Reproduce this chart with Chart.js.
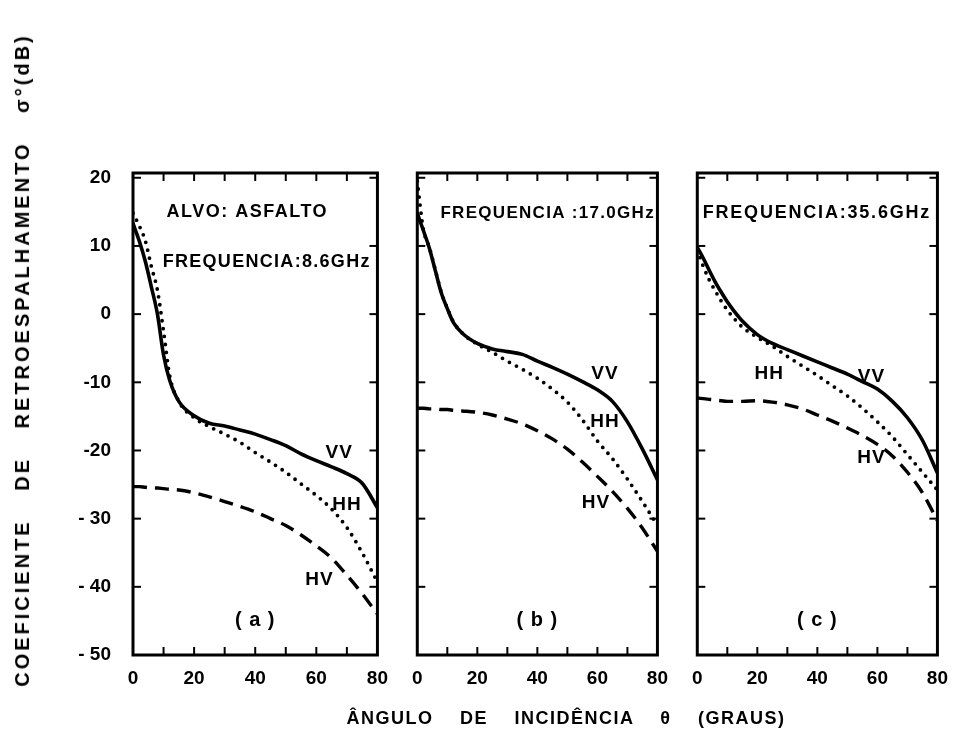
<!DOCTYPE html>
<html><head><meta charset="utf-8">
<script src="https://cdn.jsdelivr.net/npm/chart.js@4.4.1/dist/chart.umd.min.js"></script>
<style>
body{margin:0;background:#fff;}
#fig{position:relative;width:960px;height:739px;overflow:hidden;background:#fff;}
canvas{position:absolute;top:0;}
.t{position:absolute;font-family:"Liberation Sans",Arial,sans-serif;font-weight:bold;color:#000;white-space:nowrap;line-height:1;}
#ytitle{left:22px;top:360px;font-size:20px;letter-spacing:3px;word-spacing:20px;transform:translate(-50%,-50%) rotate(-90deg);}
#xtitle{left:566px;top:718px;font-size:18px;letter-spacing:1.5px;word-spacing:20px;transform:translate(-50%,-50%);}
</style></head><body>
<div id="fig">
<canvas id="ca" width="400" height="739" style="left:0px"></canvas>
<canvas id="cb" width="280" height="739" style="left:400px"></canvas>
<canvas id="cc" width="280" height="739" style="left:680px"></canvas>
<div class="t" id="ytitle">COEFICIENTE DE RETROESPALHAMENTO σ°(dB)</div>
<div class="t" id="xtitle">ÂNGULO DE INCIDÊNCIA θ (GRAUS)</div>
</div>
<script>
// ---- data (incidence angle in degrees, backscatter in dB) ----
const angles = [0,2,4,6,8,10,12,15,20,25,30,35,40,45,50,55,60,65,70,75,80];

// (a) 8.6 GHz
const vvA = [13.3,10.8,7.8,4.0,0.0,-6.0,-9.7,-12.8,-14.9,-16.0,-16.4,-17.0,-17.6,-18.4,-19.3,-20.5,-21.5,-22.4,-23.4,-24.8,-28.4];
const hhA = [14.8,13.0,10.8,7.0,3.5,-2.5,-9.0,-12.8,-15.2,-16.5,-17.6,-18.8,-20.3,-21.7,-23.2,-24.9,-26.6,-28.6,-31.3,-35.0,-39.3];
const hvA = [-25.3,-25.3,-25.4,-25.5,-25.5,-25.6,-25.7,-25.8,-26.2,-26.8,-27.5,-28.2,-29.0,-30.0,-31.0,-32.4,-34.0,-35.8,-38.3,-41.0,-44.0];

// (b) 17.0 GHz
const vvB = [14.8,12.3,9.7,6.4,3.1,0.8,-1.2,-2.8,-4.3,-5.1,-5.5,-5.9,-6.9,-7.8,-8.8,-9.9,-11.1,-12.8,-15.8,-19.8,-24.3];
const hhB = [19.5,12.5,9.8,6.5,3.2,0.9,-1.1,-2.8,-4.4,-5.6,-6.9,-8.1,-9.4,-11.0,-12.9,-15.5,-18.6,-21.2,-24.2,-27.5,-31.0];
const hvB = [-13.8,-13.8,-13.9,-13.9,-14.0,-14.0,-14.1,-14.2,-14.4,-14.8,-15.4,-16.1,-17.1,-18.3,-19.8,-21.7,-23.8,-26.0,-28.5,-31.4,-34.8];

// (c) 35.6 GHz
const vvC = [9.8,8.2,6.4,4.7,3.2,1.8,0.6,-1.0,-3.0,-4.3,-5.2,-6.1,-7.0,-7.9,-8.8,-9.9,-11.0,-12.8,-15.2,-18.5,-23.3];
const hhC = [9.4,7.0,5.0,3.4,1.9,0.6,-0.5,-1.9,-3.4,-4.7,-6.2,-7.6,-9.0,-10.5,-12.0,-13.8,-15.8,-18.0,-20.6,-23.2,-25.8];
const hvC = [-12.3,-12.4,-12.5,-12.6,-12.7,-12.8,-12.8,-12.8,-12.7,-12.9,-13.3,-13.9,-14.8,-15.7,-16.7,-17.8,-19.1,-20.8,-23.2,-26.2,-30.3];

// ---- axes ----
const xTickValues = [0,10,20,30,40,50,60,70,80];
const xTickLabels = ['0','','20','','40','','60','','80'];
const yTickValues = [-50,-40,-30,-20,-10,0,10,20];
const yTickLabels = ['- 50','- 40','- 30','-20','-10','0','10','20'];

const FONT = "'Liberation Sans', Arial, sans-serif";

const framePlugin = {
  id: 'frame',
  afterDatasetsDraw(chart, args, opts) {
    const {ctx, chartArea: a, scales: {x, y}} = chart;
    ctx.save();
    ctx.strokeStyle = '#000';
    ctx.lineWidth = 3;
    ctx.strokeRect(a.left, a.top, a.right - a.left, a.bottom - a.top);
    ctx.lineWidth = 2;
    const seg = (x1, y1, x2, y2) => { ctx.beginPath(); ctx.moveTo(x1, y1); ctx.lineTo(x2, y2); ctx.stroke(); };
    x.ticks.forEach(t => {
      if (t.value <= x.min || t.value >= x.max) return;
      const p = x.getPixelForValue(t.value);
      seg(p, a.bottom, p, a.bottom - 8);
      seg(p, a.top, p, a.top + 8);
    });
    y.ticks.forEach(t => {
      if (t.value <= y.min || t.value >= y.max) return;
      const p = y.getPixelForValue(t.value);
      seg(a.left, p, a.left + 8, p);
      seg(a.right, p, a.right - 8, p);
    });
    ctx.fillStyle = '#000';
    ctx.textBaseline = 'middle';
    (opts.notes || []).forEach(n => {
      ctx.font = 'bold ' + n.size + 'px ' + FONT;
      ctx.letterSpacing = (n.ls || 0) + 'px';
      ctx.textAlign = n.align || 'center';
      ctx.fillText(n.text, x.getPixelForValue(n.x), y.getPixelForValue(n.y));
    });
    ctx.restore();
  }
};

function toPts(vals) { return angles.map((a, i) => ({x: a, y: vals[i]})); }

function makePanel(id, vv, hh, hv, showY, padL, padR, notes) {
  new Chart(document.getElementById(id), {
    type: 'line',
    data: {
      datasets: [
        {label: 'VV', data: toPts(vv), borderColor: '#000', borderWidth: 3.6, pointRadius: 0,
         cubicInterpolationMode: 'monotone', fill: false, borderCapStyle: 'round'},
        {label: 'HH', data: toPts(hh), borderColor: '#000', borderWidth: 3.8, pointRadius: 0,
         cubicInterpolationMode: 'monotone', fill: false, borderDash: [0, 8], borderCapStyle: 'round'},
        {label: 'HV', data: toPts(hv), borderColor: '#000', borderWidth: 3.4, pointRadius: 0,
         cubicInterpolationMode: 'monotone', fill: false, borderDash: [14, 8], borderCapStyle: 'butt'}
      ]
    },
    options: {
      responsive: false,
      animation: false,
      events: [],
      layout: {padding: {left: padL, right: padR, top: 173, bottom: 0}},
      plugins: {legend: {display: false}, tooltip: {enabled: false}, frame: {notes}},
      scales: {
        x: {
          type: 'linear', min: 0, max: 80,
          afterBuildTicks: s => { s.ticks = xTickValues.map(v => ({value: v})); },
          ticks: {autoSkip: false, maxRotation: 0, minRotation: 0, padding: 12, color: '#000',
                  font: {family: FONT, size: 19, weight: 'bold'},
                  callback: (v) => xTickLabels[xTickValues.indexOf(v)] ?? ''},
          grid: {display: false, drawTicks: false},
          border: {display: false},
          afterFit: s => { s.height = 84; }
        },
        y: {
          type: 'linear', min: -50, max: 20.7,
          afterBuildTicks: s => { s.ticks = yTickValues.map(v => ({value: v})); },
          ticks: {display: showY, padding: 22, color: '#000',
                  font: {family: FONT, size: 19, weight: 'bold'},
                  callback: (v) => yTickLabels[yTickValues.indexOf(v)] ?? ''},
          grid: {display: false, drawTicks: false},
          border: {display: false},
          afterFit: s => { s.width = showY ? 133 : 0; }
        }
      }
    },
    plugins: [framePlugin]
  });
}

makePanel('ca', vvA, hhA, hvA, true, 0, 22, [
  {text: 'ALVO: ASFALTO', x: 11, y: 15.0, size: 18, ls: 1.5, align: 'left'},
  {text: 'FREQUENCIA:8.6GHz', x: 9.7, y: 7.6, size: 18, ls: 1.3, align: 'left'},
  {text: 'VV', x: 67.5, y: -20.4, size: 19, ls: 1},
  {text: 'HH', x: 70, y: -28.0, size: 19, ls: 1},
  {text: 'HV', x: 61, y: -39.0, size: 19, ls: 1},
  {text: '( a )', x: 40, y: -44.9, size: 20, ls: 1}
]);
makePanel('cb', vvB, hhB, hvB, false, 12, 19, [
  {text: 'FREQUENCIA :17.0GHz', x: 7.7, y: 14.8, size: 17, ls: 1.3, align: 'left'},
  {text: 'VV', x: 62.5, y: -8.7, size: 19, ls: 1},
  {text: 'HH', x: 62.5, y: -15.8, size: 19, ls: 1},
  {text: 'HV', x: 59.5, y: -27.7, size: 19, ls: 1},
  {text: '( b )', x: 40, y: -44.9, size: 20, ls: 1}
]);
makePanel('cc', vvC, hhC, hvC, false, 12, 20, [
  {text: 'FREQUENCIA:35.6GHz', x: 1.8, y: 14.8, size: 18, ls: 1.8, align: 'left'},
  {text: 'HH', x: 24, y: -8.8, size: 19, ls: 1},
  {text: 'VV', x: 58, y: -9.2, size: 19, ls: 1},
  {text: 'HV', x: 58, y: -21, size: 19, ls: 1},
  {text: '( c )', x: 40, y: -44.9, size: 20, ls: 1}
]);
</script>
</body></html>
